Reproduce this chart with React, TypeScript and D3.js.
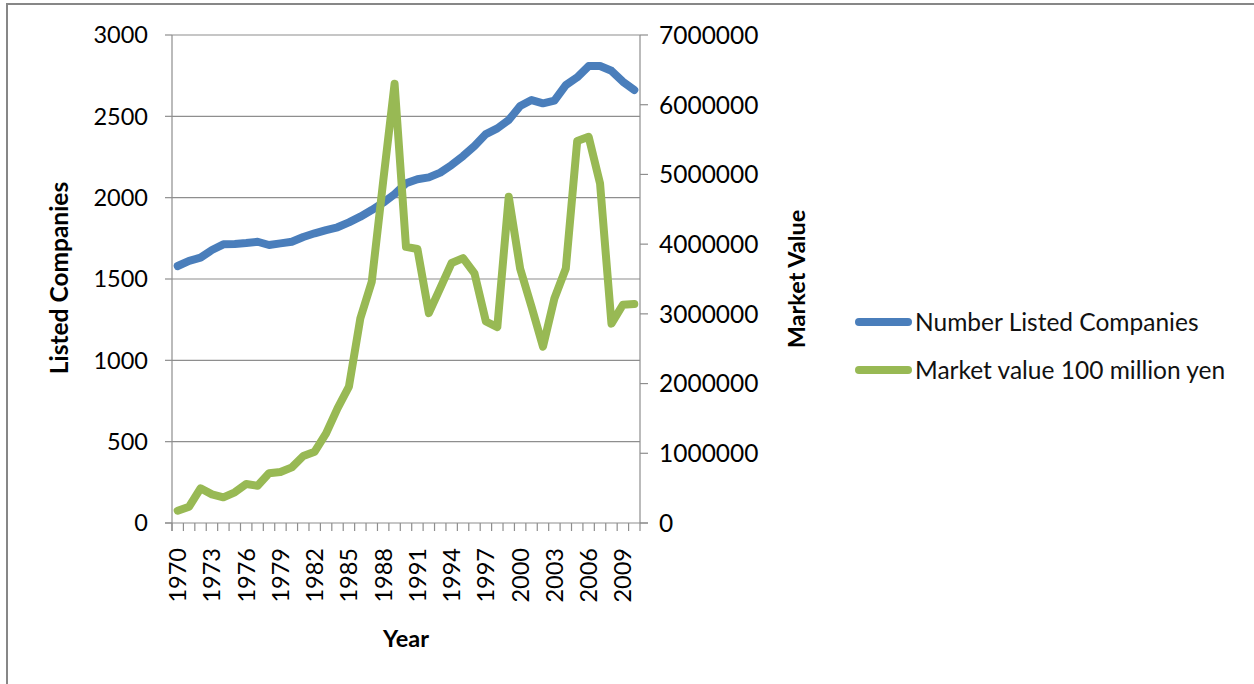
import React, { useEffect, useRef } from 'react';
import * as d3 from 'd3';

// years on the category axis (1970-2010)
const years: number[] = d3.range(1970, 2011);

// Number of listed companies (left axis)
const listedCompanies: number[] = [
  1580, 1612, 1631, 1678, 1713, 1715, 1721, 1729, 1709, 1719,
  1729, 1758, 1781, 1801, 1818, 1848, 1883, 1924, 1969, 2022,
  2088, 2113, 2125, 2154, 2201, 2256, 2318, 2391, 2426, 2477,
  2563, 2600, 2580, 2596, 2692, 2740, 2809, 2809, 2780, 2713,
  2662,
];

// Market value in 100 million yen (right axis)
const marketValue: number[] = [
  177000, 234000, 498000, 411000, 368000, 440000, 559000, 535000, 713000, 731000,
  798000, 961000, 1023000, 1286000, 1645000, 1955000, 2936000, 3461000, 4900000, 6300000,
  3960000, 3930000, 3010000, 3370000, 3730000, 3800000, 3580000, 2890000, 2810000, 4680000,
  3650000, 3100000, 2530000, 3220000, 3650000, 5480000, 5540000, 4870000, 2860000, 3130000,
  3140000,
];

const leftTicks: number[] = [0, 500, 1000, 1500, 2000, 2500, 3000];
const rightTicks: number[] = [0, 1000000, 2000000, 3000000, 4000000, 5000000, 6000000, 7000000];

const seriesNames = ['Number Listed Companies', 'Market value 100 million yen'];
const seriesColors = ['#4A7EBB', '#98B954'];

const App: React.FC = () => {
  const svgRef = useRef<SVGSVGElement>(null);

  useEffect(() => {
    if (!svgRef.current) return;
    const svg = d3.select(svgRef.current);
    svg.selectAll('*').remove();

    const left = 172, right = 640, top = 35, bottom = 523;
    const font = 'Lato, "Open Sans", sans-serif';
    const gridColor = '#8e8e8e';

    // outer frame
    svg.append('rect')
      .attr('x', 7).attr('y', 4)
      .attr('width', 1300).attr('height', 720)
      .attr('fill', '#fff')
      .attr('stroke', '#878787')
      .attr('stroke-width', 2);

    const x = d3.scaleBand<number>()
      .domain(years)
      .range([left, right])
      .paddingInner(0)
      .paddingOuter(0);
    const cx = (yr: number) => (x(yr) as number) + x.bandwidth() / 2;

    const yLeft = d3.scaleLinear().domain([0, 3000]).range([bottom, top]);
    const yRight = d3.scaleLinear().domain([0, 7000000]).range([bottom, top]);

    // horizontal gridlines
    svg.append('g')
      .selectAll('line')
      .data(leftTicks.filter(t => t > 0))
      .enter()
      .append('line')
      .attr('x1', left).attr('x2', right)
      .attr('y1', d => yLeft(d)).attr('y2', d => yLeft(d))
      .attr('stroke', gridColor)
      .attr('stroke-width', 1.2);

    // left axis
    svg.append('line')
      .attr('x1', left).attr('x2', left)
      .attr('y1', top).attr('y2', bottom + 8)
      .attr('stroke', gridColor).attr('stroke-width', 1.2);
    leftTicks.forEach(t => {
      svg.append('line')
        .attr('x1', left - 7).attr('x2', left)
        .attr('y1', yLeft(t)).attr('y2', yLeft(t))
        .attr('stroke', gridColor).attr('stroke-width', 1.2);
      svg.append('text')
        .attr('x', 148).attr('y', yLeft(t))
        .attr('dy', '0.36em')
        .attr('text-anchor', 'end')
        .attr('font-family', font)
        .attr('font-size', 23.5)
        .attr('fill', '#000')
        .text(String(t));
    });

    // right axis
    svg.append('line')
      .attr('x1', right).attr('x2', right)
      .attr('y1', top).attr('y2', bottom + 8)
      .attr('stroke', gridColor).attr('stroke-width', 1.2);
    rightTicks.forEach(t => {
      svg.append('line')
        .attr('x1', right).attr('x2', right + 8)
        .attr('y1', yRight(t)).attr('y2', yRight(t))
        .attr('stroke', gridColor).attr('stroke-width', 1.2);
      svg.append('text')
        .attr('x', 659).attr('y', yRight(t))
        .attr('dy', '0.36em')
        .attr('text-anchor', 'start')
        .attr('font-family', font)
        .attr('font-size', 24.5)
        .attr('fill', '#000')
        .text(String(t));
    });

    // bottom axis
    svg.append('line')
      .attr('x1', left - 7).attr('x2', right + 8)
      .attr('y1', bottom).attr('y2', bottom)
      .attr('stroke', gridColor).attr('stroke-width', 1.2);
    years.forEach(yr => {
      const bx = x(yr) as number;
      svg.append('line')
        .attr('x1', bx).attr('x2', bx)
        .attr('y1', bottom).attr('y2', bottom + 8)
        .attr('stroke', gridColor).attr('stroke-width', 1.2);
    });
    years.filter((_, i) => i % 3 === 0).forEach(yr => {
      svg.append('text')
        .attr('transform', `translate(${cx(yr)}, 548) rotate(-90)`)
        .attr('dy', '0.36em')
        .attr('text-anchor', 'end')
        .attr('font-family', font)
        .attr('font-size', 23.5)
        .attr('fill', '#000')
        .text(String(yr));
    });

    // series lines
    const lineLeft = d3.line<number>()
      .x((_, i) => cx(years[i]))
      .y(d => yLeft(d));
    const lineRight = d3.line<number>()
      .x((_, i) => cx(years[i]))
      .y(d => yRight(d));

    svg.append('path')
      .attr('d', lineLeft(listedCompanies) as string)
      .attr('fill', 'none')
      .attr('stroke', seriesColors[0])
      .attr('stroke-width', 8)
      .attr('stroke-linejoin', 'round')
      .attr('stroke-linecap', 'round');

    svg.append('path')
      .attr('d', lineRight(marketValue) as string)
      .attr('fill', 'none')
      .attr('stroke', seriesColors[1])
      .attr('stroke-width', 8)
      .attr('stroke-linejoin', 'round')
      .attr('stroke-linecap', 'round');

    // axis titles
    svg.append('text')
      .attr('transform', `translate(68, 278) rotate(-90)`)
      .attr('text-anchor', 'middle')
      .attr('font-family', font)
      .attr('font-weight', 700)
      .attr('font-size', 24.5)
      .text('Listed Companies');

    svg.append('text')
      .attr('transform', `translate(805, 279) rotate(-90)`)
      .attr('text-anchor', 'middle')
      .attr('font-family', font)
      .attr('font-weight', 700)
      .attr('font-size', 23.5)
      .text('Market Value');

    svg.append('text')
      .attr('x', 406).attr('y', 647)
      .attr('text-anchor', 'middle')
      .attr('font-family', font)
      .attr('font-weight', 700)
      .attr('font-size', 23.5)
      .text('Year');

    // legend
    const legendY = [322, 370];
    seriesNames.forEach((name, i) => {
      svg.append('line')
        .attr('x1', 859).attr('x2', 908)
        .attr('y1', legendY[i]).attr('y2', legendY[i])
        .attr('stroke', seriesColors[i])
        .attr('stroke-width', 8)
        .attr('stroke-linecap', 'round');
      svg.append('text')
        .attr('x', 915).attr('y', legendY[i])
        .attr('dy', '0.36em')
        .attr('font-family', font)
        .attr('font-size', 24.5)
        .attr('fill', '#111')
        .text(name);
    });
  }, []);

  return (
    <svg
      ref={svgRef}
      width={1254}
      height={684}
      style={{ position: 'absolute', left: 0, top: 0, background: '#fff' }}
    />
  );
};

export default App;
